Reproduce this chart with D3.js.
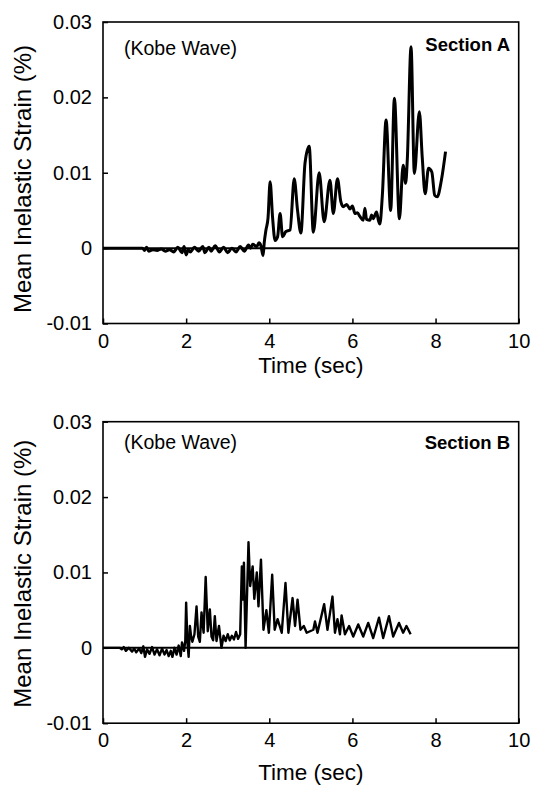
<!DOCTYPE html>
<html>
<head>
<meta charset="utf-8">
<script src="https://cdn.jsdelivr.net/npm/d3@7/dist/d3.min.js"></script>
<style>
  body { margin: 0; background: #fff; }
  svg { font-family: "Liberation Sans", Arial, sans-serif; }
  .tick text { font-size: 20px; fill: #000; }
  .tick line { stroke: #000; stroke-width: 1.5; }
  .frame { fill: none; stroke: #000; stroke-width: 1.6; }
  .zero { stroke: #000; stroke-width: 2; }
  .series { fill: none; stroke: #000; stroke-linejoin: round; }
</style>
</head>
<body>
<div id="chart"></div>
<script>
// axis ticks
var xTicks = [0, 2, 4, 6, 8, 10];
var yTicks = [-0.01, 0, 0.01, 0.02, 0.03];
var panelNames = ["Section A", "Section B"];
var waveLabel = "(Kobe Wave)";

// [time (sec), mean inelastic strain (%)]
var sectionA = [[0,0],[0.95,0],[1.0,-0.0003],[1.05,0.0001],[1.1,-0.0004],[1.2,-0.0002],[1.3,-0.0003],[1.4,-0.0001],
  [1.5,-0.0004],[1.6,-0.0002],[1.7,-0.0005],[1.8,0.0001],[1.9,-0.0006],[1.95,0.0002],[2.0,-0.0009],[2.05,-0.0002],
  [2.1,-0.0005],[2.2,0.0001],[2.3,-0.0004],[2.4,0.0002],[2.45,-0.0006],[2.55,0.0001],[2.6,-0.0004],[2.7,0.0003],
  [2.8,-0.0005],[2.9,0.0001],[3.0,-0.0006],[3.1,0],[3.2,-0.0005],[3.3,0.0002],[3.4,-0.0004],[3.5,0.0004],[3.55,0],
  [3.6,0.0005],[3.7,0.0002],[3.75,0.0007],[3.8,0.0003],[3.85,-0.001],[3.88,0.0008],[3.92,0.0024],[3.97,0.004],
  [4.02,0.0088],[4.08,0.004],[4.14,0.001],[4.2,0.0015],[4.26,0.0046],[4.32,0.0015],[4.4,0.0022],[4.5,0.0024],
  [4.6,0.0092],[4.68,0.005],[4.76,0.002],[4.86,0.0113],[4.96,0.0135],[5.06,0.0021],[5.2,0.010],[5.32,0.0035],
  [5.46,0.009],[5.54,0.0046],[5.64,0.0092],[5.72,0.0062],[5.78,0.0055],[5.86,0.0058],[5.94,0.0052],[6.0,0.0056],
  [6.06,0.0046],[6.12,0.0047],[6.18,0.0042],[6.26,0.0037],[6.3,0.0053],[6.34,0.0038],[6.42,0.0037],[6.46,0.0044],
  [6.5,0.0039],[6.58,0.0048],[6.62,0.0038],[6.66,0.0032],[6.72,0.007],
  [6.81,0.017],[6.92,0.005],[7.01,0.0199],[7.13,0.0039],[7.22,0.011],[7.28,0.0086],[7.32,0.0117],[7.41,0.0267],
  [7.49,0.0099],[7.61,0.0181],[7.68,0.012],[7.75,0.0072],[7.83,0.0106],[7.91,0.0101],[7.98,0.007],[8.04,0.0068],
  [8.14,0.009],[8.24,0.0128]];

var sectionB = [[0,0],[0.4,0],[0.45,-0.0002],[0.5,0.0001],[0.55,-0.0004],[0.62,0],[0.7,-0.0005],[0.75,-0.0001],
  [0.8,-0.0006],[0.87,-0.0001],[0.92,-0.0007],[0.97,0.0002],[1.01,-0.0012],[1.06,-0.0002],[1.12,-0.0008],[1.18,0.0001],
  [1.24,-0.0009],[1.3,-0.0002],[1.36,-0.001],[1.42,-0.0001],[1.48,-0.0009],[1.53,-0.0003],[1.58,-0.0011],[1.63,-0.0004],
  [1.67,-0.0012],[1.72,0],[1.77,-0.0009],[1.82,0.0003],[1.87,-0.0011],[1.9,0.0007],[1.95,-0.0004],[1.98,0.001],
  [2.0,0.006],[2.03,0.0008],[2.06,-0.0012],[2.09,0.0029],[2.12,0.0015],[2.15,0.0008],[2.2,0.0018],[2.25,0.0055],
  [2.29,0.0015],[2.33,0.0008],[2.37,0.0047],[2.42,0.002],[2.47,0.0094],[2.52,0.0022],[2.57,0.0051],[2.61,0.0015],
  [2.65,0.001],[2.69,0.0042],[2.73,0.0009],[2.79,0.0029],[2.85,0],[2.9,0.0016],[2.95,0.0009],[3.0,0.0018],[3.05,0.001],
  [3.1,0.0016],[3.15,0.0011],[3.2,0.0021],[3.25,0.0012],[3.3,0.0018],[3.34,0.0108],[3.37,0.0064],[3.39,0.0113],
  [3.43,0],[3.47,0.008],[3.5,0.014],[3.54,0.0082],[3.6,0.0108],[3.64,0.0065],[3.7,0.01],[3.74,0.0055],[3.8,0.0117],
  [3.86,0.0024],[3.93,0.005],[3.99,0.002],[4.07,0.0097],[4.13,0.0024],[4.2,0.0038],[4.3,0.002],[4.39,0.0086],
  [4.46,0.002],[4.56,0.0066],[4.62,0.0029],[4.68,0.0064],[4.75,0.0024],[4.83,0.0029],[4.9,0.002],[4.98,0.0022],
  [5.06,0.0024],[5.1,0.0035],[5.16,0.002],[5.32,0.0058],[5.4,0.0024],[5.52,0.0068],[5.58,0.002],[5.64,0.0038],
  [5.7,0.0018],[5.74,0.0043],[5.82,0.0018],[5.92,0.0029],[6.02,0.0015],[6.14,0.0031],[6.26,0.0015],[6.38,0.0033],
  [6.5,0.0013],[6.64,0.004],[6.74,0.0013],[6.88,0.0042],[6.98,0.0015],[7.12,0.0033],[7.22,0.002],[7.3,0.0029],
  [7.4,0.0018]];

var width = 533, height = 785;
var left = 103, right = 518.7, plotH = 301.5;
var panelTops = [22, 421.7];

var svg = d3.select("#chart").append("svg").attr("width", width).attr("height", height);

var x = d3.scaleLinear().domain([0, 10]).range([left, right]);
var y = d3.scaleLinear().domain([-0.01, 0.03]).range([plotH, 0]);

function drawPanel(top, data, name, smooth, opts) {
    var g = svg.append("g").attr("transform", "translate(0," + top + ")");

    // axes with inward ticks
    var xAxis = d3.axisBottom(x).tickValues(xTicks).tickSizeInner(-5).tickSizeOuter(0).tickPadding(10)
        .tickFormat(d3.format("d"));
    var yAxis = d3.axisLeft(y).tickValues(yTicks).tickSizeInner(-5).tickSizeOuter(0).tickPadding(11)
        .tickFormat(function(d) { return d === 0 ? "0" : d.toFixed(2); });
    g.append("g").attr("transform", "translate(0," + plotH + ")").call(xAxis).call(function(s) { s.select(".domain").remove(); });
    g.append("g").attr("transform", "translate(" + left + ",0)").call(yAxis).call(function(s) { s.select(".domain").remove(); });
    g.selectAll(".tick text").attr("font-family", null).attr("font-size", null);

    g.append("rect").attr("class", "frame")
        .attr("x", left).attr("y", 0).attr("width", right - left).attr("height", plotH);
    g.append("line").attr("class", "zero")
        .attr("x1", left).attr("x2", right).attr("y1", y(0)).attr("y2", y(0));

    var line = d3.line().x(function(d) { return x(d[0]); }).y(function(d) { return y(d[1]); })
        .curve(smooth ? d3.curveMonotoneX : d3.curveLinear);
    g.append("path").attr("class", "series").datum(data).attr("d", line)
        .attr("stroke-width", smooth ? 3 : 2.4);

    g.append("text").attr("x", 124).attr("y", opts.waveY).attr("font-size", 19.5).text(waveLabel);
    g.append("text").attr("x", 510).attr("y", opts.nameY).attr("text-anchor", "end")
        .attr("font-size", 18.5).attr("font-weight", "bold").text(name);

    g.append("text").attr("transform", "translate(31," + opts.labelY + ") rotate(-90)")
        .attr("text-anchor", "middle").attr("font-size", 24).text("Mean Inelastic Strain (%)");
    g.append("text").attr("x", (left + right) / 2).attr("y", opts.timeY)
        .attr("text-anchor", "middle").attr("font-size", 22.5).text("Time (sec)");
}

drawPanel(panelTops[0], sectionA, panelNames[0], true, {waveY: 33, nameY: 29, labelY: 157, timeY: 351});
drawPanel(panelTops[1], sectionB, panelNames[1], false, {waveY: 27, nameY: 27, labelY: 152, timeY: 358});
</script>
</body>
</html>
